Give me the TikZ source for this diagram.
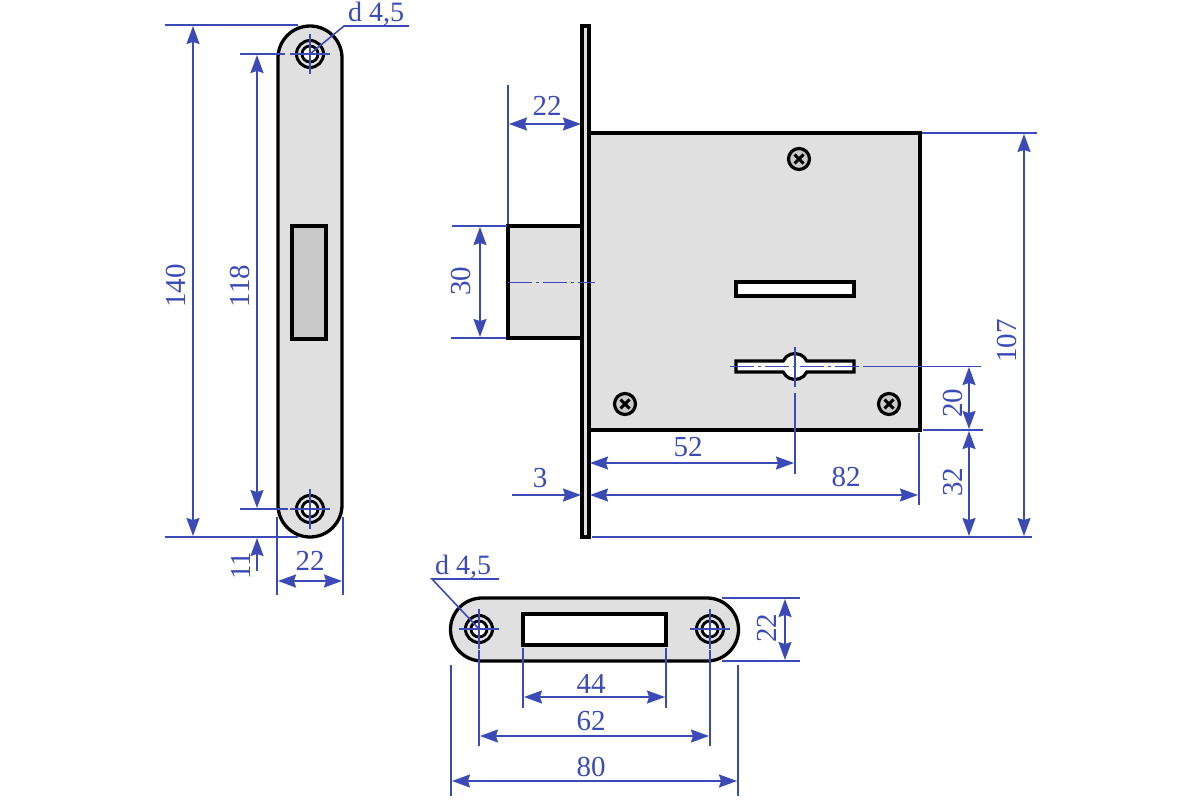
\documentclass[tikz,border=0pt]{standalone}
\usepackage{fontspec}
\setmainfont{Liberation Serif}
\usetikzlibrary{arrows.meta}
\definecolor{dimblue}{HTML}{3C4AB8}
\definecolor{plate}{HTML}{E0E0E0}
\definecolor{slotgrey}{HTML}{C9C9C9}
\tikzset{
  part/.style={draw=black,line width=3.3pt,fill=plate,line join=miter},
  hole/.style={draw=black,line width=3.2pt,fill=white},
  dimline/.style={draw=dimblue,line width=1.6pt},
  thinline/.style={draw=dimblue,line width=1.1pt},
  dimarrow/.style={dimline,{Stealth[length=18pt,width=13pt,inset=2pt]}-{Stealth[length=18pt,width=13pt,inset=2pt]}},
  onearrow/.style={dimline,-{Stealth[length=18pt,width=13pt,inset=2pt]}},
  centre/.style={draw=dimblue,line width=1pt,dash pattern=on 24pt off 4pt on 3pt off 4pt},
  dimtext/.style={text=dimblue,font=\fontsize{29}{29}\selectfont,inner sep=0pt},
  leadtext/.style={text=dimblue,font=\fontsize{28}{28}\selectfont,inner sep=0pt},
  rot/.style={dimtext,rotate=90},
  pics/screwbig/.style={code={
    \draw[draw=black,line width=3pt,fill=plate] (0,0) circle (13.5);
    \draw[draw=black,line width=2.8pt,fill=white] (0,0) circle (8);
    \draw[thinline] (-20,0)--(20,0) (0,-20)--(0,20);
  }},
  pics/screwsmall/.style={code={
    \draw[draw=black,line width=3.2pt,fill=slotgrey] (0,0) circle (10.5);
    \draw[draw=black,line width=3pt] (-4.5,-4.5)--(4.5,4.5) (-4.5,4.5)--(4.5,-4.5);
  }}
}
\begin{document}
\begin{tikzpicture}[x=1pt,y=-1pt]
\useasboundingbox (0,0) rectangle (1200,800);
\fill[white] (0,0) rectangle (1200,800);
% left strike plate
\draw[part] (278,58) arc[start angle=180,end angle=360,radius=32] -- (342,505) arc[start angle=0,end angle=180,radius=32] -- cycle;
\draw[part,fill=slotgrey] (292,226) rectangle (326,339);
\pic at (310,54) {screwbig};
\pic at (310,509) {screwbig};
% left dimensions
\draw[dimline] (165,25)--(298,25);
\draw[dimline] (165,537)--(298,537);
\draw[dimarrow] (193,26)--(193,536);
\draw[dimline] (240,54)--(285,54);
\draw[dimline] (240,509)--(288,509);
\draw[dimarrow] (257,55)--(257,508);
\draw[onearrow] (257,571)--(257,538);
\draw[dimline] (277,517)--(277,595);
\draw[dimline] (343,517)--(343,595);
\draw[dimarrow] (278,581)--(342,581);
\node[dimtext] (t22a) at (310,561) {22};
\node[rot] (t140) at (176,286) {140};
\node[rot] (t118) at (240,286) {118};
\node[rot] (t11) at (241,566) {11};
\node[leadtext] (d1) at (376,14) {d 4,5};
\draw[dimline] (310,54)--(344,26)--(409,26);
% main body
\draw[part] (508,226) rectangle (582,338);
\draw[part] (582,26) rectangle (589,537);
\draw[part] (589,133) rectangle (920,430);
\draw[hole] (736,282) rectangle (854,296);
\draw[hole] (736,361) -- (783.2,361) arc[start angle=205,end angle=335,radius=13] -- (854,361) -- (854,372) -- (806.8,372) arc[start angle=25,end angle=155,radius=13] -- (736,372) -- cycle;
\pic at (799,159) {screwsmall};
\pic at (625,404) {screwsmall};
\pic at (889,404) {screwsmall};
\draw[centre] (508,282)--(595,282);
\draw[centre] (730,366.5)--(860,366.5);
\draw[thinline] (795,347)--(795,387);
% main dimensions
\draw[dimline] (508,85)--(508,224);
\draw[dimarrow] (509,124)--(581,124);
\node[dimtext] (t22b) at (547,106) {22};
\draw[dimline] (452,226)--(507,226);
\draw[dimline] (451,338)--(506,338);
\draw[dimarrow] (480,227)--(480,337);
\node[rot] (t30) at (461,281) {30};
\draw[dimarrow] (590,463)--(794,463);
\draw[dimline] (795,393)--(795,474);
\node[dimtext] (t52) at (688,447) {52};
\draw[dimarrow] (590,495)--(918,495);
\draw[dimline] (919,433)--(919,505);
\node[dimtext] (t82) at (846,477) {82};
\draw[onearrow] (512,495)--(581,495);
\node[dimtext] (t3) at (540,478) {3};
\draw[dimline] (592,537)--(1032,537);
\draw[dimline] (922,133)--(1037,133);
\draw[dimarrow] (1024,134)--(1024,536);
\node[rot] (t107) at (1007,341) {107};
\draw[dimline] (863,366.5)--(981,366.5);
\draw[dimline] (923,430)--(983,430);
\draw[dimarrow] (969,367)--(969,429);
\draw[dimarrow] (969,431)--(969,536);
\node[rot] (t20) at (953,403) {20};
\node[rot] (t32) at (953,482) {32};
% bottom strike plate
\draw[part] (482,598) -- (707,598) arc[start angle=-90,end angle=90,radius=31.5] -- (482,661) arc[start angle=90,end angle=270,radius=31.5] -- cycle;
\draw[hole] (523,614) rectangle (666,645);
\pic at (479,629) {screwbig};
\pic at (710,629) {screwbig};
% bottom dimensions
\draw[dimline] (722,598)--(800,598);
\draw[dimline] (722,661)--(800,661);
\draw[dimarrow] (785,599)--(785,660);
\node[rot] (t22c) at (767,628) {22};
\draw[dimline] (523,648)--(523,708);
\draw[dimline] (666,648)--(666,708);
\draw[dimarrow] (524,697)--(665,697);
\node[dimtext] (t44) at (591,684) {44};
\draw[dimline] (479,650)--(479,746);
\draw[dimline] (710,650)--(710,746);
\draw[dimarrow] (480,736)--(709,736);
\node[dimtext] (t62) at (591,721) {62};
\draw[dimline] (451,665)--(451,796);
\draw[dimline] (738,665)--(738,796);
\draw[dimarrow] (452,781)--(737,781);
\node[dimtext] (t80) at (591,767) {80};
\node[leadtext] (d2) at (463,567) {d 4,5};
\draw[dimline] (479,629)--(432,579)--(499,579);
\end{tikzpicture}
\end{document}
